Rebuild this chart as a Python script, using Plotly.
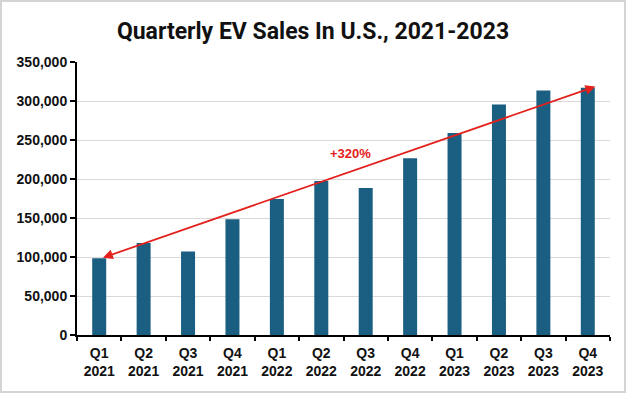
import plotly.graph_objects as go

quarters = ["Q1<br>2021", "Q2<br>2021", "Q3<br>2021", "Q4<br>2021",
            "Q1<br>2022", "Q2<br>2022", "Q3<br>2022", "Q4<br>2022",
            "Q1<br>2023", "Q2<br>2023", "Q3<br>2023", "Q4<br>2023"]
sales = [98500, 118000, 107000, 148500, 174500, 197500,
         188500, 226500, 259000, 295500, 313500, 317000]
y_ticks = [0, 50000, 100000, 150000, 200000, 250000, 300000, 350000]
growth_label = "+320%"
arrow_start = (0.05, 98500)
arrow_end = (11.17, 318500)
label_pos = (5.66, 233000)

BAR = "#1a5e82"
RED = "#e3201b"
TICKFONT = dict(family="Liberation Sans, Arial, sans-serif", size=14, color="#111111", weight="bold")

fig = go.Figure()
fig.add_trace(go.Bar(x=quarters, y=sales, marker=dict(color=BAR, line=dict(width=0))))

fig.update_layout(
    width=626, height=393,
    margin=dict(l=77, r=16, t=62, b=58),
    paper_bgcolor="white", plot_bgcolor="white",
    bargap=0.685,
    showlegend=False,
    title=dict(text="Quarterly EV Sales In U.S., 2021-2023",
               x=0.5, xanchor="center", y=1 - 31 / 393, yanchor="middle",
               yref="container",
               font=dict(family="Roboto, Liberation Sans, sans-serif",
                         size=23, color="#111111", weight="bold")),
)

fig.update_yaxes(
    range=[0, 350000], tickvals=y_ticks, tickformat=",",
    showgrid=True, gridcolor="#d9d9d9", gridwidth=1,
    showline=True, linecolor="black", linewidth=2,
    ticks="outside", ticklen=5, tickwidth=2, tickcolor="black",
    tickfont=TICKFONT, zeroline=False,
)
fig.update_xaxes(
    type="category",
    showline=True, linecolor="black", linewidth=2,
    ticks="outside", ticklen=4, tickwidth=2, tickcolor="black",
    tickson="boundaries", ticklabelstandoff=4,
    tickfont=TICKFONT, showgrid=False,
)

fig.add_annotation(
    x=arrow_end[0], y=arrow_end[1], ax=arrow_start[0], ay=arrow_start[1],
    xref="x", yref="y", axref="x", ayref="y",
    text="", showarrow=True, arrowhead=2, startarrowhead=2,
    arrowside="end+start", arrowsize=1.1, startarrowsize=1.1,
    arrowwidth=1.8, arrowcolor=RED,
)
fig.add_annotation(
    x=label_pos[0], y=label_pos[1], xref="x", yref="y",
    text="<b>" + growth_label + "</b>", showarrow=False,
    font=dict(family="Liberation Sans, Arial, sans-serif", size=13, color=RED),
)

# outer frame
fig.add_shape(type="rect", xref="paper", yref="paper",
              x0=(1 - 77) / 533, x1=(625 - 77) / 533,
              y0=(335 - 392) / 273, y1=(335 - 1) / 273,
              line=dict(color="#d4d4d4", width=2), fillcolor="rgba(0,0,0,0)",
              layer="below")

fig.write_html("out.html", config={"displayModeBar": False},
               post_script="document.body.style.margin='0';")
